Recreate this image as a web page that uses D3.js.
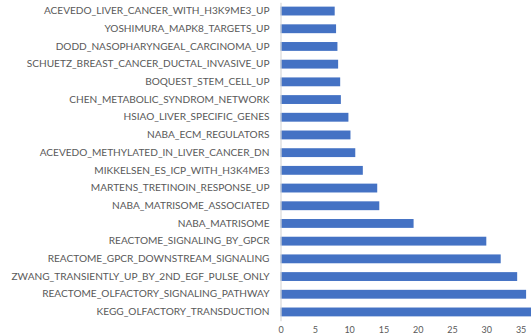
<!DOCTYPE html>
<html><head><meta charset="utf-8">
<script src="https://cdn.jsdelivr.net/npm/d3@7"></script>
<style>body{margin:0;background:#fff;overflow:hidden}</style>
</head><body>
<svg id="c" width="531" height="336"></svg>
<script>
const categories = [
 "ACEVEDO_LIVER_CANCER_WITH_H3K9ME3_UP",
 "YOSHIMURA_MAPK8_TARGETS_UP",
 "DODD_NASOPHARYNGEAL_CARCINOMA_UP",
 "SCHUETZ_BREAST_CANCER_DUCTAL_INVASIVE_UP",
 "BOQUEST_STEM_CELL_UP",
 "CHEN_METABOLIC_SYNDROM_NETWORK",
 "HSIAO_LIVER_SPECIFIC_GENES",
 "NABA_ECM_REGULATORS",
 "ACEVEDO_METHYLATED_IN_LIVER_CANCER_DN",
 "MIKKELSEN_ES_ICP_WITH_H3K4ME3",
 "MARTENS_TRETINOIN_RESPONSE_UP",
 "NABA_MATRISOME_ASSOCIATED",
 "NABA_MATRISOME",
 "REACTOME_SIGNALING_BY_GPCR",
 "REACTOME_GPCR_DOWNSTREAM_SIGNALING",
 "ZWANG_TRANSIENTLY_UP_BY_2ND_EGF_PULSE_ONLY",
 "REACTOME_OLFACTORY_SIGNALING_PATHWAY",
 "KEGG_OLFACTORY_TRANSDUCTION"
];
const values = [7.9, 8.1, 8.3, 8.4, 8.7, 8.8, 9.9, 10.2, 10.9, 12.0, 14.1, 14.4, 19.4, 30.0, 32.1, 34.5, 35.8, 37.5];
const tickValues = [0, 5, 10, 15, 20, 25, 30, 35];

const svg = d3.select("#c");
const x0 = 280.5;
const x = d3.scaleLinear().domain([0, 40]).range([x0, x0 + 274.4]);
const y = d3.scaleBand().domain(categories).range([2.2, 320.8]).paddingInner(0.5).paddingOuter(0.25);

svg.selectAll("rect.bar").data(values).join("rect")
  .attr("class","bar")
  .attr("x", x(0))
  .attr("y", (d,i) => y(categories[i]))
  .attr("width", d => x(d) - x(0))
  .attr("height", y.bandwidth())
  .attr("fill", "#4472C4");

// y axis
const ya = svg.append("g").attr("transform", `translate(${x0},0)`)
  .call(d3.axisLeft(y).tickSize(0).tickPadding(11));
ya.select(".domain").attr("stroke", "#d9d9d9").attr("stroke-width", 1.2);
ya.selectAll("text").attr("fill", "#595959").attr("font-family", "Lato, 'Open Sans', sans-serif").attr("font-size", "10.1px");

// x axis
const xa = svg.append("g").attr("transform", `translate(0,327)`)
  .call(d3.axisBottom(x).tickValues(tickValues).tickSize(0).tickPadding(0));
xa.select(".domain").remove();
xa.selectAll("text").attr("fill", "#595959").attr("font-family", "Lato, 'Open Sans', sans-serif").attr("font-size", "9px").attr("dy", "0.71em");
</script>
</body></html>
